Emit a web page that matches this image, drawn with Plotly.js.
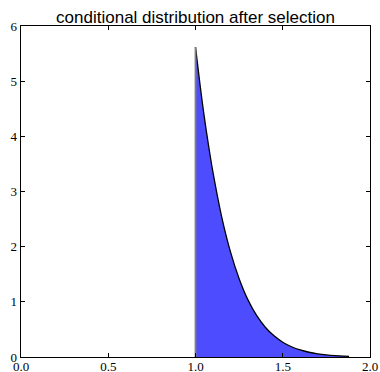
<!DOCTYPE html>
<html>
<head>
<meta charset="utf-8">
<script src="https://cdn.plot.ly/plotly-3.0.1.min.js"></script>
<style>html,body{margin:0;padding:0;background:#fff;}#plot{width:380px;height:372px;}</style>
</head>
<body>
<div id="plot"></div>
<script>
var xVals = [1.0, 1.02, 1.04, 1.06, 1.08, 1.10, 1.15, 1.20, 1.25, 1.30, 1.35, 1.40, 1.45, 1.50, 1.55, 1.60, 1.65, 1.70, 1.75, 1.80, 1.85, 1.88];
var density = [5.62, 5.09, 4.59, 4.14, 3.73, 3.35, 2.54, 1.91, 1.42, 1.04, 0.753, 0.540, 0.383, 0.268, 0.186, 0.127, 0.0863, 0.0578, 0.0382, 0.0251, 0.0162, 0.0124];
var cutoffX = [1.0, 1.0];
var cutoffY = [0, 5.62];
var xTicks = [0.0, 0.5, 1.0, 1.5, 2.0];
var xTickText = ['0.0', '0.5', '1.0', '1.5', '2.0'];
var yTicks = [0, 1, 2, 3, 4, 5, 6];

var traces = [
  {x: xVals, y: density, type: 'scatter', mode: 'lines', fill: 'tozeroy',
   fillcolor: 'rgb(77,77,255)', line: {color: '#000', width: 1.3, shape: 'spline', smoothing: 0.8}, hoverinfo: 'none'},
  {x: cutoffX, y: cutoffY, type: 'scatter', mode: 'lines',
   line: {color: '#7f7f7f', width: 1.8}, hoverinfo: 'none'}
];

var layout = {
  width: 380, height: 372,
  margin: {l: 21, r: 10, t: 26, b: 15},
  showlegend: false,
  paper_bgcolor: '#fff', plot_bgcolor: '#fff',
  title: {text: 'conditional distribution after selection', xref: 'paper', x: 0.5, xanchor: 'center',
          yref: 'container', y: 0.953, yanchor: 'middle',
          font: {family: 'Liberation Sans, Arial, sans-serif', size: 17, color: '#000'}},
  xaxis: {range: [0, 2], tickvals: xTicks, ticktext: xTickText, ticks: 'inside', ticklen: 4, tickwidth: 1,
          tickcolor: '#000', mirror: 'ticks', showline: true, linecolor: '#000', linewidth: 1.3,
          showgrid: false, zeroline: false, automargin: false, ticklabelstandoff: -3,
          tickfont: {family: 'Liberation Serif, DejaVu Serif, serif', size: 13, color: '#000'}},
  yaxis: {range: [0, 6], tickvals: yTicks, ticks: 'inside', ticklen: 4, tickwidth: 1,
          tickcolor: '#000', mirror: 'ticks', showline: true, linecolor: '#000', linewidth: 1.3,
          showgrid: false, zeroline: false, automargin: false,
          tickfont: {family: 'Liberation Serif, DejaVu Serif, serif', size: 13, color: '#000'}}
};

Plotly.newPlot('plot', traces, layout, {staticPlot: true, displayModeBar: false});
</script>
</body>
</html>
